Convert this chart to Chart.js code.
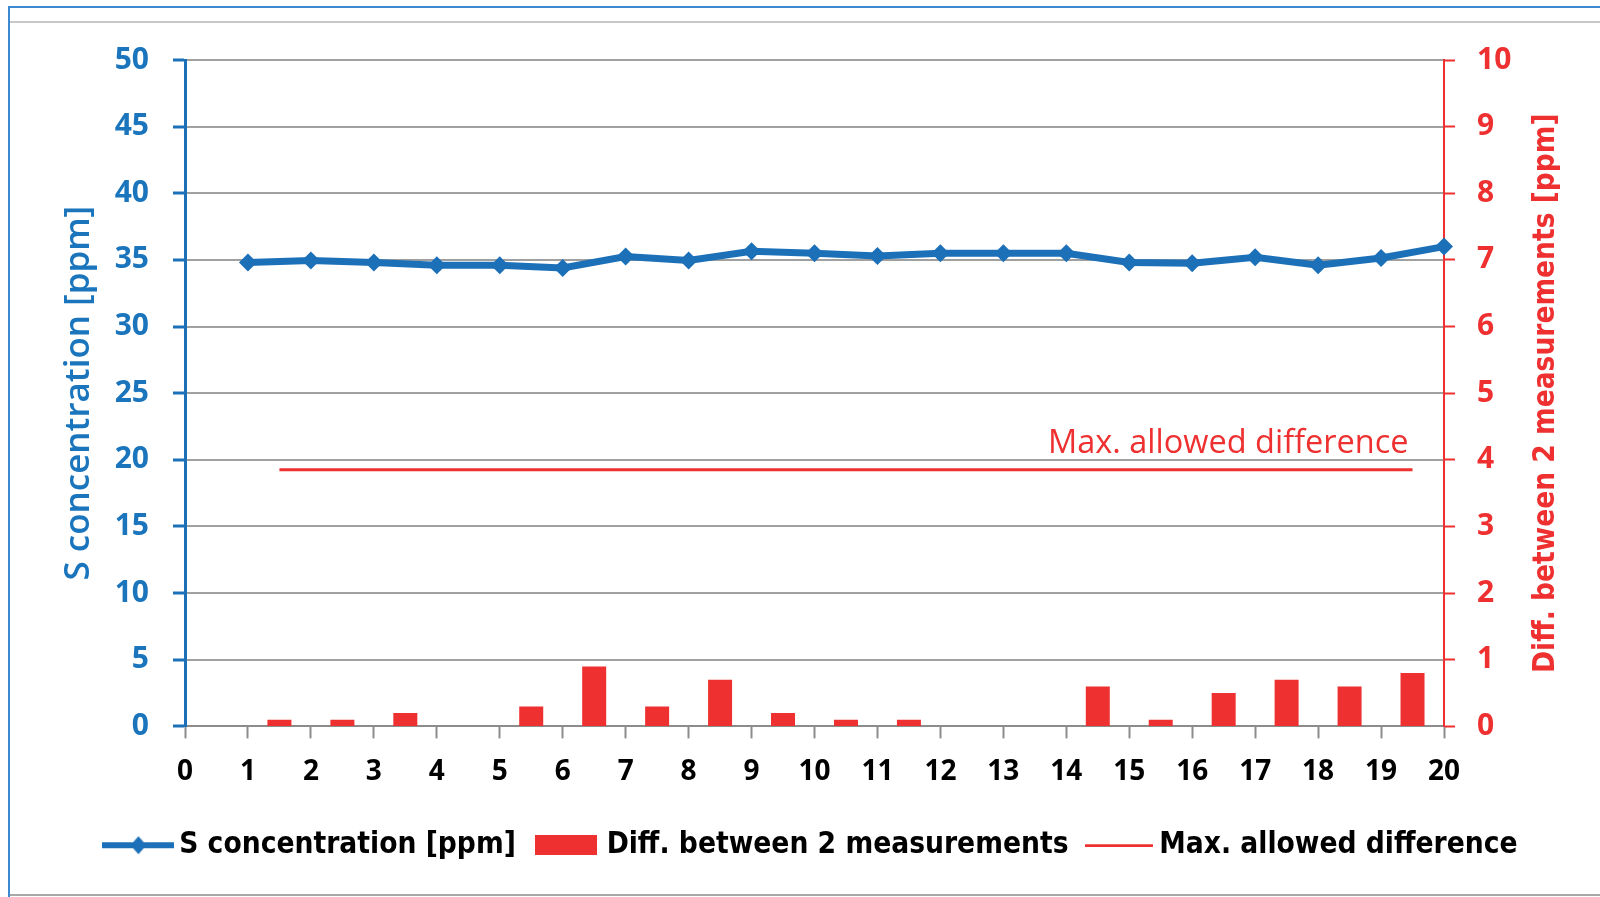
<!DOCTYPE html>
<html>
<head>
<meta charset="utf-8">
<title>S concentration</title>
<script src="https://cdn.jsdelivr.net/npm/chart.js@4.4.1/dist/chart.umd.min.js"></script>
<style>
  html, body { margin: 0; padding: 0; background: #fff; }
  #wrap { position: relative; width: 1600px; height: 897px; overflow: hidden; }
  #myChart { position: absolute; left: 0; top: 0; }
  .frame-top { position: absolute; left: 8px; top: 6px; width: 1600px; height: 2px; background: #3d8ad0; }
  .frame-left { position: absolute; left: 8px; top: 6px; width: 2px; height: 900px; background: #3d8ad0; }
  .frame-grey { position: absolute; left: 10px; top: 21px; width: 1600px; height: 2px; background: #c8c8c8; }
  .frame-bottom { position: absolute; left: 10px; top: 894px; width: 1600px; height: 2px; background: #a8a8a8; }
</style>
</head>
<body>
<div id="wrap">
  <canvas id="myChart" width="1600" height="897"></canvas>
  <div class="frame-top"></div>
  <div class="frame-left"></div>
  <div class="frame-grey"></div>
  <div class="frame-bottom"></div>
</div>
<script>
// measurement numbers and S concentration [ppm]
const measurements = [1, 2, 3, 4, 5, 6, 7, 8, 9, 10, 11, 12, 13, 14, 15, 16, 17, 18, 19, 20];
const sConcentration = [34.8, 34.95, 34.8, 34.6, 34.6, 34.4, 35.25, 34.95, 35.65, 35.5,
                        35.3, 35.5, 35.5, 35.5, 34.8, 34.75, 35.2, 34.6, 35.15, 36.0];
// difference between 2 consecutive measurements, drawn between them
const diffPositions = [1.5, 2.5, 3.5, 4.5, 5.5, 6.5, 7.5, 8.5, 9.5, 10.5,
                       11.5, 12.5, 13.5, 14.5, 15.5, 16.5, 17.5, 18.5, 19.5];
const diffValues = [0.1, 0.1, 0.2, 0, 0.3, 0.9, 0.3, 0.7, 0.2, 0.1,
                    0.1, 0, 0, 0.6, 0.1, 0.5, 0.7, 0.6, 0.8];
// max allowed difference
const maxAllowed = 3.85;
const maxRange = [1.5, 19.5];

const blue = "#1c70b8";
const blueText = "#1b75bc";
const red = "#ee3030";
const grey = "#a0a0a0";

// legend symbols as small canvases
function makeSymbol(w, h, draw) {
  const c = document.createElement("canvas");
  c.width = w;
  c.height = h;
  draw(c.getContext("2d"));
  return c;
}
const lineSymbol = makeSymbol(72, 20, (g) => {
  g.strokeStyle = blue;
  g.lineWidth = 6;
  g.beginPath();
  g.moveTo(0, 10);
  g.lineTo(72, 10);
  g.stroke();
  g.fillStyle = blue;
  g.beginPath();
  g.moveTo(36, 1);
  g.lineTo(44, 10);
  g.lineTo(36, 19);
  g.lineTo(28, 10);
  g.closePath();
  g.fill();
});
const boxSymbol = makeSymbol(62, 20, (g) => {
  g.fillStyle = red;
  g.fillRect(0, 0, 62, 20);
});
const redLineSymbol = makeSymbol(68, 4, (g) => {
  g.fillStyle = red;
  g.fillRect(0, 1, 68, 3);
});

const data = {
  datasets: [
    {
      type: "line",
      label: "S concentration [ppm]",
      data: measurements.map((m, i) => ({ x: m, y: sConcentration[i] })),
      borderColor: blue,
      backgroundColor: blue,
      borderWidth: 7,
      pointStyle: "rectRot",
      pointRadius: 9,
      pointBorderWidth: 0,
      pointBackgroundColor: blue,
      tension: 0,
      clip: false,
      yAxisID: "y",
      order: 0,
    },
    {
      type: "bar",
      label: "Diff. between 2 measurements",
      data: diffPositions.map((p, i) => ({ x: p, y: diffValues[i] })),
      backgroundColor: red,
      borderWidth: 0,
      inflateAmount: 0,
      barThickness: 24,
      yAxisID: "y2",
      order: 2,
    },
    {
      type: "line",
      label: "Max. allowed difference",
      data: maxRange.map((p) => ({ x: p, y: maxAllowed })),
      borderColor: red,
      borderWidth: 3,
      pointRadius: 0,
      yAxisID: "y2",
      order: 1,
    },
  ],
};

const legendSymbols = [lineSymbol, boxSymbol, redLineSymbol];

// axis titles (both read bottom to top) and the label over the limit line
const annotations = {
  id: "annotations",
  afterDraw(chart) {
    const ctx = chart.ctx;
    const area = chart.chartArea;
    const midY = (area.top + area.bottom) / 2;
    ctx.save();
    ctx.textAlign = "center";
    ctx.textBaseline = "middle";

    ctx.save();
    ctx.translate(79, midY);
    ctx.rotate(-Math.PI / 2);
    ctx.fillStyle = blueText;
    ctx.font = "600 35px 'Open Sans'";
    ctx.fillText("S concentration [ppm]", 0, 0);
    ctx.restore();

    ctx.save();
    ctx.translate(1546, midY);
    ctx.rotate(-Math.PI / 2);
    ctx.fillStyle = red;
    ctx.font = "bold 29.5px 'DejaVu Sans Condensed', 'DejaVu Sans'";
    ctx.fillText("Diff. between 2 measurements [ppm]", 0, 0);
    ctx.restore();

    const xs = chart.scales.x;
    const y2 = chart.scales.y2;
    ctx.textAlign = "right";
    ctx.textBaseline = "alphabetic";
    ctx.fillStyle = red;
    ctx.font = "32.5px 'Open Sans'";
    ctx.fillText("Max. allowed difference", xs.getPixelForValue(maxRange[1]) - 4, y2.getPixelForValue(maxAllowed) - 17);
    ctx.restore();
  },
};

const tickFont = { family: "'Open Sans'", size: 30, weight: "bold" };

const config = {
  type: "bar",
  data: data,
  options: {
    responsive: false,
    animation: false,
    layout: { padding: { left: 30, right: 0, top: 60, bottom: 27 } },
    plugins: {
      tooltip: { enabled: false },
      legend: {
        position: "bottom",
        labels: {
          usePointStyle: true,
          pointStyleWidth: 52,
          padding: 24,
          color: "#000",
          font: { family: "'DejaVu Sans Condensed', 'DejaVu Sans'", size: 29.6, weight: "bold" },
          generateLabels: (chart) =>
            chart.data.datasets.map((ds, i) => ({
              text: ds.label,
              datasetIndex: i,
              pointStyle: legendSymbols[i],
              fillStyle: "transparent",
              strokeStyle: "transparent",
              lineWidth: 0,
              hidden: false,
            })),
        },
      },
    },
    scales: {
      x: {
        type: "linear",
        position: "bottom",
        offset: false,
        min: 0,
        max: 20,
        ticks: { stepSize: 1, color: "#000", font: { family: "'Open Sans'", size: 28, weight: "bold" }, padding: 17 },
        grid: { offset: false, drawOnChartArea: false, tickLength: 12, tickColor: "#8c8c8c", tickWidth: 2 },
        border: { color: "#8c8c8c", width: 2 },
        afterFit: (s) => { s.height = 80; },
      },
      y: {
        position: "left",
        min: 0,
        max: 50,
        ticks: { stepSize: 5, color: blueText, font: tickFont, padding: 24 },
        grid: { color: grey, lineWidth: 2, tickLength: 12, tickColor: blue, tickWidth: 3 },
        border: { color: blue, width: 3 },
        afterFit: (s) => { s.width = 155; },
      },
      y2: {
        position: "right",
        min: 0,
        max: 10,
        ticks: { stepSize: 1, color: red, font: tickFont, padding: 22 },
        grid: { drawOnChartArea: false, tickLength: 11, tickColor: red, tickWidth: 2 },
        border: { color: red, width: 2 },
        afterFit: (s) => { s.width = 156; },
      },
    },
  },
  plugins: [annotations],
};

// Create the chart
let myChart = new Chart(document.getElementById("myChart").getContext("2d"), config);
</script>
</body>
</html>
